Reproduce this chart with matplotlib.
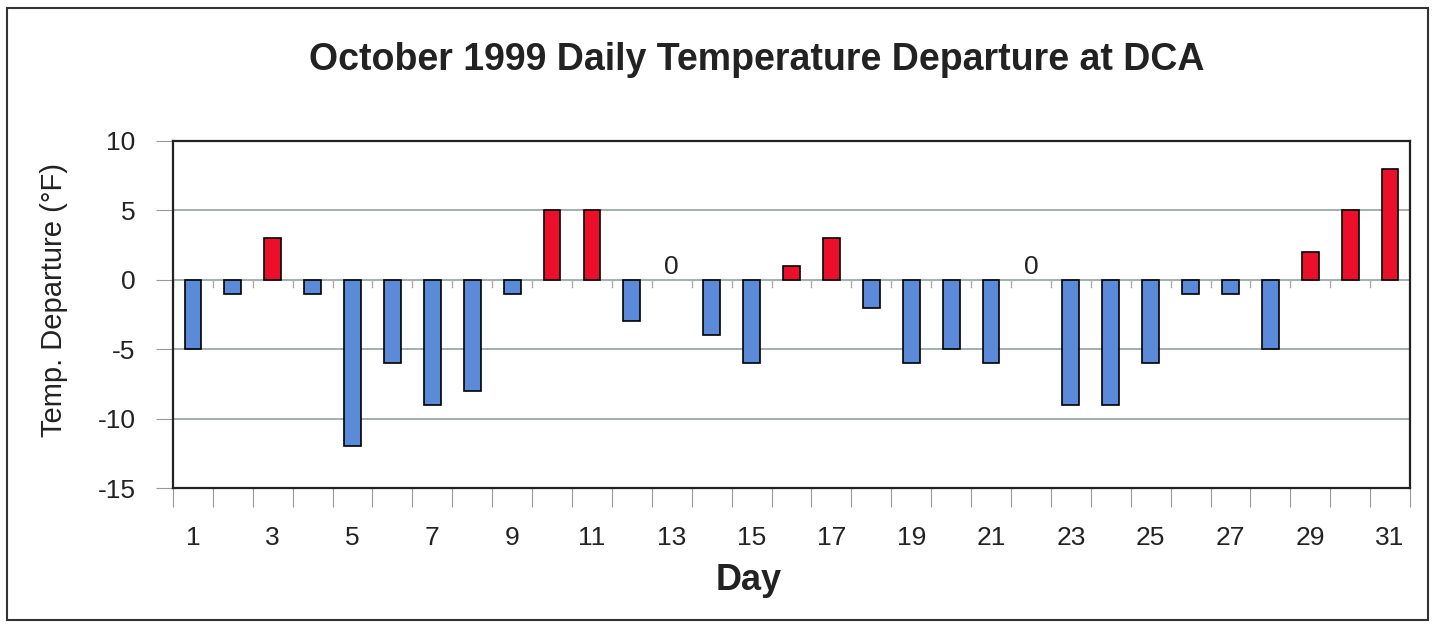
import numpy as np
import matplotlib.pyplot as plt
from matplotlib.patches import Rectangle

plt.rcParams['font.family'] = ['Liberation Sans', 'DejaVu Sans']

days = list(range(1, 32))
departure = [-5, -1, 3, -1, -12, -6, -9, -8, -1, 5, 5, -3, 0, -4, -6, 1, 3, -2,
             -6, -5, -6, 0, -9, -9, -6, -1, -1, -5, 2, 5, 8]
y_ticks = [-15, -10, -5, 0, 5, 10]
x_labels = [str(d) for d in days if d % 2 == 1]

blue = '#5b8ad8'
red = '#ec0f2c'

fig = plt.figure(figsize=(14.34, 6.28), dpi=100)
ax = fig.add_axes([0.1206, 0.2229, 0.8627, 0.5526])

colors = [red if v > 0 else blue for v in departure]
edges = ['black' if v != 0 else 'none' for v in departure]
ax.bar(days, departure, width=0.42, color=colors, edgecolor=edges, linewidth=1.2, zorder=3)

# zero days get a "0" label
for d, v in zip(days, departure):
    if v == 0:
        ax.text(d, 0.05, '0', ha='center', va='bottom', fontsize=19, color='#222222')

ax.set_xlim(0.5, 31.5)
ax.set_ylim(-15, 10)
ax.set_yticks(y_ticks)
ax.set_yticklabels([str(t) for t in y_ticks], fontsize=19, color='#222222')
for t in y_ticks[1:-1]:
    ax.axhline(t, color='#8a9a9a', linewidth=1.1, zorder=1)

# tick marks between categories, at the bottom and along the zero line
bounds = np.arange(0.5, 32, 1)
ax.set_xticks(bounds)
ax.set_xticklabels([])
ax.tick_params(axis='x', which='major', length=14, color='#999999', direction='out')
ax.set_xticks([d for d in days if d % 2 == 1], minor=True)
ax.set_xticklabels(x_labels, minor=True, fontsize=19, color='#222222')
ax.tick_params(axis='x', which='minor', length=0, pad=27)
ax.tick_params(axis='y', length=12, color='#999999', pad=15)
for b in bounds:
    ax.plot([b, b], [0, -0.55], color='#aaaaaa', linewidth=1, zorder=2)

for s in ax.spines.values():
    s.set_linewidth(1.6)
    s.set_color('#222222')

fig.text(0.038, 0.522, 'Temp. Departure (°F)', rotation=90, ha='center', va='center',
         fontsize=21, color='#222222')
fig.text(0.522, 0.076, 'Day', ha='center', va='center', fontsize=26, fontweight='bold',
         color='#222222')
fig.text(0.528, 0.904, 'October 1999 Daily Temperature Departure at DCA', ha='center', va='center',
         fontsize=27, fontweight='bold', color='#222222')

fig.patches.append(Rectangle((0.005, 0.013), 0.991, 0.975, transform=fig.transFigure,
                             fill=False, edgecolor='#333333', linewidth=1.5))

fig.savefig('out.png', dpi=100)
